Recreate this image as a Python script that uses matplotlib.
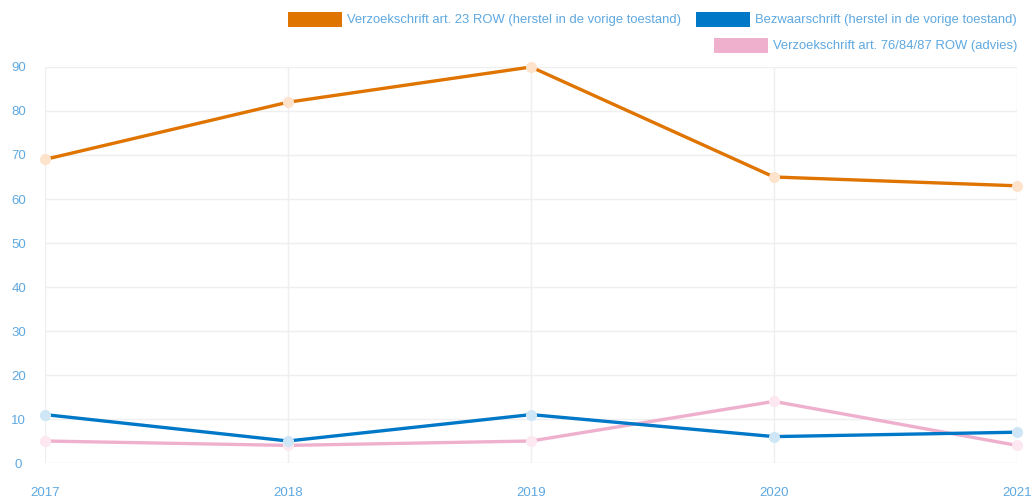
import matplotlib
matplotlib.use("Agg")
import matplotlib.pyplot as plt
from matplotlib.patches import Rectangle

plt.rcParams['font.family'] = ['Liberation Sans', 'DejaVu Sans']

years = ["2017", "2018", "2019", "2020", "2021"]
art23 = [69, 82, 90, 65, 63]
bezwaar = [11, 5, 11, 6, 7]
art76 = [5, 4, 5, 14, 4]

series = [
    ("Verzoekschrift art. 23 ROW (herstel in de vorige toestand)", art23, "#e07400", "#fde3cc"),
    ("Bezwaarschrift (herstel in de vorige toestand)", bezwaar, "#0078c8", "#cfe6f6"),
    ("Verzoekschrift art. 76/84/87 ROW (advies)", art76, "#efb0cd", "#fde8f1"),
]
tick_color = "#5fa8e0"

W, H = 1032, 498
fig = plt.figure(figsize=(W / 100, H / 100), dpi=100)
ax = fig.add_axes([45 / W, 35 / H, (1017 - 45) / W, (463 - 67) / H])

x = list(range(len(years)))
for label, vals, col, fill in series[::-1]:
    ax.plot(x, vals, color=col, lw=2.4, marker="o", ms=7, clip_on=False,
            markerfacecolor=fill, markeredgecolor=fill, zorder=3)

ax.set_xlim(0, len(years) - 1)
ax.set_ylim(0, 90)
ax.set_yticks(range(0, 91, 10))
ax.set_xticks(x)
ax.set_xticklabels(years)
ax.grid(True, color="#efefef", lw=1)
ax.set_axisbelow(True)
for s in ax.spines.values():
    s.set_visible(False)
ax.tick_params(length=0, colors=tick_color, labelsize=9.5)
ax.tick_params(axis="x", pad=17)
ax.tick_params(axis="y", pad=19)
for t in ax.get_yticklabels():
    t.set_horizontalalignment("center")

# legend drawn by hand in two right-aligned rows
legend_pos = [(288, 12), (696, 12), (714, 38)]
for (label, vals, col, fill), (lx, ly) in zip(series, legend_pos):
    fig.add_artist(Rectangle((lx / W, 1 - (ly + 15) / H), 54 / W, 15 / H,
                             transform=fig.transFigure, color=col, lw=0))
    fig.text((lx + 59) / W, 1 - (ly + 7.5) / H, label, color=tick_color,
             fontsize=9.4, va="center", ha="left")

fig.savefig("out.png", dpi=100)
